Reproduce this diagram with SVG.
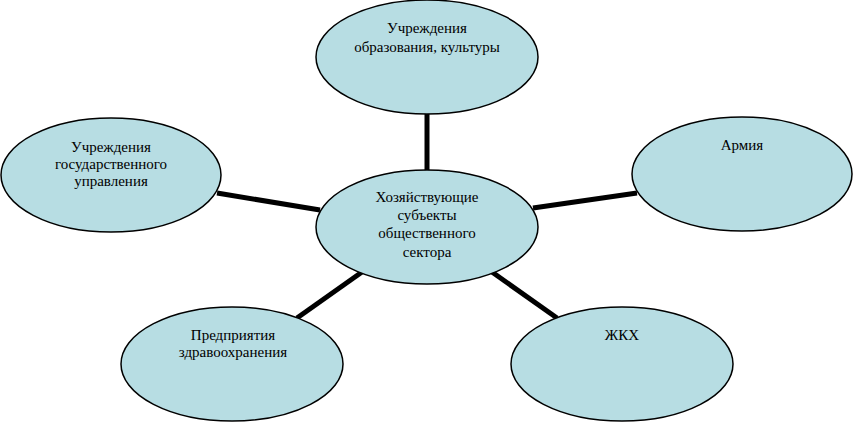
<svg xmlns="http://www.w3.org/2000/svg" width="854" height="422" viewBox="0 0 854 422">
<style>
.node ellipse{fill:#B7DDE3;stroke:#000;stroke-width:1.5}
.node text{font-size:15px;fill:#000;text-anchor:middle}
.conn line{stroke:#000;stroke-width:5}
</style>
<rect width="854" height="422" fill="#fff"/>
<g id="connectors" class="conn">
<line x1="427" y1="113" x2="427" y2="172"/>
<line x1="217" y1="193" x2="320" y2="210"/>
<line x1="533" y1="208" x2="637" y2="193"/>
<line x1="297" y1="318" x2="362" y2="272"/>
<line x1="492" y1="272" x2="557" y2="318"/>
</g>
<g font-family="Liberation Serif, Times New Roman, serif">
<g id="node-top" class="node">
<ellipse cx="427" cy="57" rx="111" ry="57"/>
<text x="427" y="33">Учреждения</text>
<text x="427" y="52">образования, культуры</text>
</g>
<g id="node-left" class="node">
<ellipse cx="111" cy="175" rx="110" ry="57"/>
<text x="111" y="152">Учреждения</text>
<text x="111" y="169">государственного</text>
<text x="111" y="186">управления</text>
</g>
<g id="node-right" class="node">
<ellipse cx="742" cy="174" rx="110" ry="57"/>
<text x="742" y="150">Армия</text>
</g>
<g id="node-center" class="node">
<ellipse cx="427" cy="227" rx="111" ry="57"/>
<text x="427" y="202">Хозяйствующие</text>
<text x="427" y="220">субъекты</text>
<text x="427" y="238">общественного</text>
<text x="427" y="257">сектора</text>
</g>
<g id="node-bottom-left" class="node">
<ellipse cx="232" cy="364" rx="111" ry="57"/>
<text x="233" y="340">Предприятия</text>
<text x="233" y="357">здравоохранения</text>
</g>
<g id="node-bottom-right" class="node">
<ellipse cx="622" cy="364" rx="111" ry="57"/>
<text x="622" y="340">ЖКХ</text>
</g>
</g>
</svg>
